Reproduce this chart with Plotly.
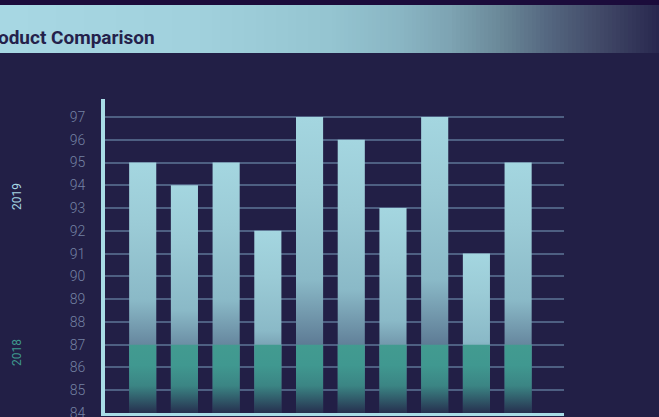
import plotly.graph_objects as go

# ---------------- data ----------------
categories = ["Product 1", "Product 2", "Product 3", "Product 4", "Product 5",
              "Product 6", "Product 7", "Product 8", "Product 9", "Product 10"]
values_2019 = [95, 94, 95, 92, 97, 96, 93, 97, 91, 95]
values_2018 = [87, 87, 87, 87, 87, 87, 87, 87, 87, 87]
y_tick_values = list(range(84, 98))
series_names = ["2019", "2018"]
base_value = 84

# ---------------- style ----------------
BG = "#221f46"
W, H = 659, 417
ML, MR, MT, MB = 105, 95, 99, 4
PW, PH = W - ML - MR, H - MT - MB
bar_w = 0.65

def px_x(p):
    return (p - ML) / PW

def px_y(p):
    return (H - MB - p) / PH

grad_2019 = [[0, "#2f3a60"], [0.45, "#8ab9c7"], [0.75, "#9bcbd6"], [1, "#a4d6e0"]]
grad_2018 = [[0, "#26304f"], [0.4, "#3b8584"], [0.7, "#409890"], [1, "#429b90"]]

fig = go.Figure()

def add_bars(values, scale):
    for i, v in enumerate(values):
        x0, x1 = i - bar_w / 2, i + bar_w / 2
        fig.add_trace(go.Scatter(
            x=[x0, x1, x1, x0, x0],
            y=[base_value, base_value, v, v, base_value],
            mode="lines", line=dict(width=0),
            fill="toself",
            fillgradient=dict(type="vertical", colorscale=scale,
                              start=base_value, stop=v),
            hoverinfo="skip", showlegend=False,
        ))

add_bars(values_2019, grad_2019)
add_bars(values_2018, grad_2018)

# ---------------- header band (gradient) ----------------
def hex2rgb(h):
    h = h.lstrip("#")
    return tuple(int(h[i:i + 2], 16) for i in (0, 2, 4))

stops = [(0, "#a8d8e4"), (200, "#a1d1dd"), (330, "#95c5d1"), (400, "#8ab6c4"),
         (450, "#7ea4b3"), (500, "#6b8999"), (550, "#54667f"), (600, "#424a68"),
         (659, "#29284f")]

def band_color(px):
    for (a, ca), (b, cb) in zip(stops[:-1], stops[1:]):
        if a <= px <= b:
            t = (px - a) / (b - a)
            r1, g1, b1 = hex2rgb(ca)
            r2, g2, b2 = hex2rgb(cb)
            return "rgb(%d,%d,%d)" % (r1 + (r2 - r1) * t, g1 + (g2 - g1) * t, b1 + (b2 - b1) * t)
    return stops[-1][1]

shapes = []
shapes.append(dict(type="rect", xref="paper", yref="paper", layer="below",
                   x0=px_x(0), x1=px_x(W), y0=px_y(5), y1=px_y(0),
                   fillcolor="#1b0c3b", line=dict(width=0)))
step = 4
for p in range(0, W, step):
    shapes.append(dict(type="rect", xref="paper", yref="paper", layer="below",
                       x0=px_x(p), x1=px_x(p + step + 0.5), y0=px_y(53), y1=px_y(5),
                       fillcolor=band_color(p + step / 2), line=dict(width=0)))

annotations = [
    dict(text="<b>Product Comparison</b>", xref="paper", yref="paper",
         x=px_x(157), y=px_y(37), xanchor="right", yanchor="middle", showarrow=False,
         font=dict(family="Roboto", size=19, color="#24214b")),
    dict(text=series_names[0], xref="paper", yref="paper", textangle=-90,
         x=px_x(17), y=px_y(197), xanchor="center", yanchor="middle", showarrow=False,
         font=dict(family="Roboto", size=12, color="#a6d6e2")),
    dict(text=series_names[1], xref="paper", yref="paper", textangle=-90,
         x=px_x(17), y=px_y(353), xanchor="center", yanchor="middle", showarrow=False,
         font=dict(family="Roboto", size=12, color="#3f9a8e")),
]

fig.update_layout(
    width=W, height=H,
    margin=dict(l=ML, r=MR, t=MT, b=MB, pad=0, autoexpand=False),
    paper_bgcolor=BG, plot_bgcolor=BG,
    shapes=shapes, annotations=annotations,
    showlegend=False,
    xaxis=dict(range=[-0.904, 10.1], tickvals=list(range(len(categories))),
               ticktext=categories, showticklabels=False, showgrid=False,
               zeroline=False, showline=True, linecolor="#a8dce6", linewidth=3,
               automargin=False, fixedrange=True),
    yaxis=dict(range=[base_value, 97.79], tickvals=y_tick_values,
               showgrid=True, gridcolor="#4e5f82", gridwidth=1.5,
               zeroline=False, showline=True, linecolor="#a8dce6", linewidth=4,
               ticks="", ticklabelstandoff=13, ticklabeloverflow="allow",
               tickfont=dict(family="Roboto", size=14, color="#7482a3", weight=300),
               automargin=False, fixedrange=True),
)

fig.write_html("out.html", config=dict(displayModeBar=False),
               post_script="document.body.style.margin='0';document.body.style.background='%s';" % BG)
